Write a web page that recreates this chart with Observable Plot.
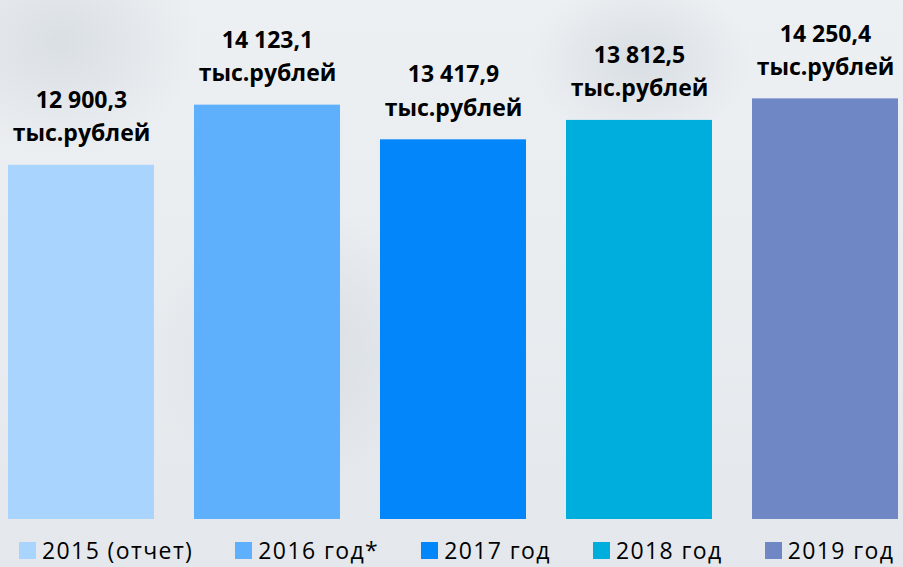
<!DOCTYPE html>
<html>
<head>
<meta charset="utf-8">
<script src="https://cdn.jsdelivr.net/npm/d3@7"></script>
<script src="https://cdn.jsdelivr.net/npm/@observablehq/plot@0.6"></script>
<style>
  html, body { margin: 0; padding: 0; }
  body {
    width: 903px; height: 567px; overflow: hidden;
    background:
      radial-gradient(ellipse 160px 120px at 640px 60px, rgba(180,190,200,0.35), rgba(180,190,200,0) 70%),
      radial-gradient(ellipse 200px 160px at 60px 40px, rgba(190,198,206,0.4), rgba(190,198,206,0) 70%),
      radial-gradient(ellipse 220px 200px at 300px 350px, rgba(190,198,206,0.35), rgba(190,198,206,0) 70%),
      linear-gradient(#edf0f3, #e4e8ec);
    font-family: "Open Sans", sans-serif;
  }
  #chart svg { display: block; background: transparent; }
  #legend {
    display: flex; align-items: center; gap: 42px;
    height: 42px; padding-left: 19px; padding-top: 4px;
    font-family: "Open Sans", sans-serif; font-size: 23px; color: #000;
    letter-spacing: 1.4px;
  }
  .item { display: flex; align-items: center; gap: 6px; white-space: nowrap; }
  .sw { width: 17px; height: 17px; display: inline-block; }
</style>
</head>
<body>
<div id="chart"></div>
<div id="legend"></div>
<script>
const categories = ["2015 (отчет)", "2016 год*", "2017 год", "2018 год", "2019 год"];
const values = [12900.3, 14123.1, 13417.9, 13812.5, 14250.4];
const valueLabels = ["12 900,3", "14 123,1", "13 417,9", "13 812,5", "14 250,4"];
const unitLabel = "тыс.рублей";
const colors = ["#A8D4FD", "#5EB0FC", "#0486FB", "#00AEDD", "#7087C6"];
const baseValue = 5700;

const data = categories.map((c, i) => ({
  cat: c, value: values[i], label: valueLabels[i] + "\n" + unitLabel
}));

const chart = Plot.plot({
  width: 903,
  height: 525,
  marginLeft: 8,
  marginRight: 4,
  marginTop: 0,
  marginBottom: 6,
  style: { background: "transparent", fontFamily: "Open Sans, sans-serif" },
  x: { domain: categories, paddingInner: 0.215, paddingOuter: 0, axis: null },
  y: { domain: [baseValue, 16250], axis: null },
  color: { domain: categories, range: colors },
  marks: [
    Plot.rectY(data, { x: "cat", y1: baseValue, y2: "value", fill: "cat" }),
    Plot.text(data, {
      x: "cat", y: "value", text: "label",
      lineAnchor: "bottom", lineHeight: 1.45, dy: -24,
      fontSize: 23, fontWeight: "bold", fill: "#000"
    })
  ]
});
document.getElementById("chart").appendChild(chart);

const legend = document.getElementById("legend");
categories.forEach((c, i) => {
  const it = document.createElement("div");
  it.className = "item";
  const sw = document.createElement("span");
  sw.className = "sw";
  sw.style.background = colors[i];
  const t = document.createElement("span");
  t.textContent = c;
  it.appendChild(sw); it.appendChild(t);
  legend.appendChild(it);
});
</script>
</body>
</html>
